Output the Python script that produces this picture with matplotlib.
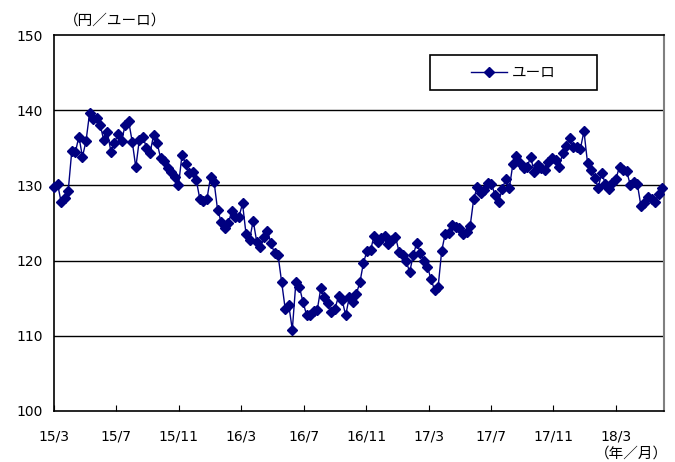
import numpy as np
import matplotlib
matplotlib.use("Agg")
import matplotlib.pyplot as plt
from matplotlib.patches import Rectangle

plt.rcParams['font.family'] = ['Noto Sans CJK JP', 'DejaVu Sans']

# weekly euro rate (yen per euro)
euro = [129.8, 130.2, 127.8, 128.3, 129.3, 134.6, 134.4, 136.5, 133.8, 135.9,
        139.6, 138.8, 139.0, 138.0, 136.0, 137.1, 134.5, 135.6, 136.9, 135.9,
        138.0, 138.5, 135.8, 132.4, 136.1, 136.5, 135.0, 134.3, 136.7, 135.6,
        133.6, 133.2, 132.3, 131.8, 131.1, 130.0, 134.1, 132.9, 131.7, 131.8,
        130.7, 128.2, 127.9, 128.2, 131.1, 130.5, 126.7, 125.2, 124.4, 125.0,
        126.6, 125.8, 125.8, 127.6, 123.5, 122.8, 125.3, 122.5, 121.8, 123.2,
        124.0, 122.3, 121.0, 120.7, 117.2, 113.6, 114.1, 110.8, 117.1, 116.5,
        114.5, 112.8, 112.8, 113.3, 113.4, 116.3, 115.1, 114.3, 113.2, 113.6,
        115.3, 114.8, 112.7, 115.1, 114.5, 115.6, 117.1, 119.7, 121.3, 121.4,
        123.3, 122.5, 123.0, 123.3, 122.2, 122.7, 123.2, 121.2, 120.7, 119.9,
        118.5, 120.7, 122.4, 121.0, 119.9, 119.2, 117.5, 116.1, 116.5, 121.3,
        123.6, 123.7, 124.8, 124.5, 124.4, 123.6, 123.8, 124.6, 128.2, 129.8,
        129.0, 129.4, 130.3, 130.2, 128.7, 127.8, 129.5, 130.8, 129.6, 132.8,
        133.9, 133.0, 132.3, 132.4, 133.8, 131.8, 132.7, 132.3, 132.0, 133.1,
        133.7, 133.4, 132.4, 134.3, 135.2, 136.3, 135.1, 135.1, 134.9, 137.2,
        133.0, 132.0, 131.0, 129.7, 131.7, 130.2, 129.5, 130.3, 130.9, 132.5,
        132.1, 131.9, 130.1, 130.5, 130.2, 127.3, 127.6, 128.4, 128.2, 127.8,
        128.9, 129.6]

month_labels = ['15/3', '15/7', '15/11', '16/3', '16/7', '16/11',
                '17/3', '17/7', '17/11', '18/3']
y_ticks = [100, 110, 120, 130, 140, 150]

fig = plt.figure(figsize=(6.75, 4.62), dpi=100)
ax = fig.add_axes([0.08, 0.1104, 0.9037, 0.8138])

x = np.arange(len(euro))
ax.plot(x, euro, color='#000080', lw=1, marker='D', markersize=4.6,
        clip_on=False, zorder=3, label='ユーロ')

ax.set_xlim(0, 171.5)
ax.set_ylim(100, 150)
ax.set_yticks(y_ticks)
ax.set_xticks(np.arange(len(month_labels)) * 17.55)
ax.set_xticklabels(month_labels, fontsize=10)
ax.tick_params(axis='x', direction='in', length=4, pad=13)
ax.tick_params(axis='y', length=0, pad=8, labelsize=10)
for lab in ax.get_yticklabels():
    lab.set_family('DejaVu Sans')
for lab in ax.get_xticklabels():
    lab.set_family('DejaVu Sans')

for v in y_ticks[1:-1]:
    ax.axhline(v, color='black', lw=1.0, zorder=1)

for s in ['left', 'bottom', 'top']:
    ax.spines[s].set_color('black')
    ax.spines[s].set_linewidth(1.2)
ax.spines['right'].set_color('#808080')
ax.spines['right'].set_linewidth(1.5)

# legend box
ax.add_patch(Rectangle((0.616, 0.854), 0.274, 0.093, transform=ax.transAxes,
                       facecolor='white', edgecolor='black', lw=1.2, zorder=4))
ax.legend(loc='center', bbox_to_anchor=(0.753, 0.90), frameon=False,
          fontsize=10.5, handlelength=2.5, handletextpad=0.3)

fig.text(0.095, 0.955, '（円／ユーロ）', fontsize=10.5, ha='left', va='center')
fig.text(0.99, 0.018, '（年／月）', fontsize=10.5, ha='right', va='center')

fig.savefig('out.png', dpi=100)
